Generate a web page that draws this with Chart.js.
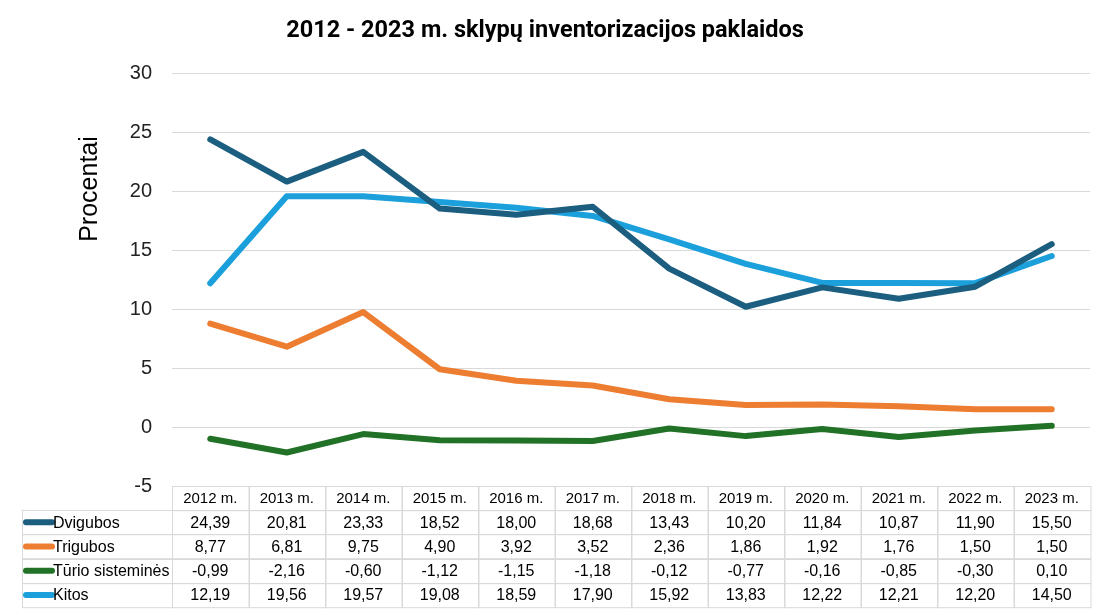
<!DOCTYPE html>
<html>
<head>
<meta charset="utf-8">
<script src="https://cdn.jsdelivr.net/npm/chart.js@4.4.1/dist/chart.umd.min.js"></script>
<style>
  html, body { margin: 0; padding: 0; background: #fff; }
  #wrap { width: 1103px; height: 613px; position: relative; }
</style>
</head>
<body>
<div id="wrap"><canvas id="chart" width="1103" height="613"></canvas></div>
<script>
const years = ["2012 m.", "2013 m.", "2014 m.", "2015 m.", "2016 m.", "2017 m.",
               "2018 m.", "2019 m.", "2020 m.", "2021 m.", "2022 m.", "2023 m."];
const dvigubos = [24.39, 20.81, 23.33, 18.52, 18.00, 18.68, 13.43, 10.20, 11.84, 10.87, 11.90, 15.50];
const trigubos = [8.77, 6.81, 9.75, 4.90, 3.92, 3.52, 2.36, 1.86, 1.92, 1.76, 1.50, 1.50];
const turioSistemines = [-0.99, -2.16, -0.60, -1.12, -1.15, -1.18, -0.12, -0.77, -0.16, -0.85, -0.30, 0.10];
const kitos = [12.19, 19.56, 19.57, 19.08, 18.59, 17.90, 15.92, 13.83, 12.22, 12.21, 12.20, 14.50];
const seriesNames = ["Dvigubos", "Trigubos", "Tūrio sisteminės", "Kitos"];
const yTicks = { min: -5, max: 30, step: 5 };

const colors = ["#1b5e80", "#ed7d31", "#217226", "#1ca0dc"];
const FONT = "'Liberation Sans', Arial, sans-serif";

// formats numbers like the table: comma decimal, two places
function fmt(v) {
    return v.toFixed(2).replace(".", ",");
}

// Data table + axis title under the plot, drawn from the same arrays
const tablePlugin = {
    id: "dataTable",
    afterDraw(chart) {
        const ctx = chart.ctx;
        const area = chart.chartArea;
        const xScale = chart.scales.x;
        const rowH = 24.2;
        const colW = area.width / years.length;
        const top = area.bottom;
        const leftX = 22;
        const rows = [dvigubos, trigubos, turioSistemines, kitos];

        ctx.save();
        ctx.strokeStyle = "#d9d9d9";
        ctx.lineWidth = 1;
        ctx.fillStyle = "#000";
        ctx.font = "15px " + FONT;
        ctx.textAlign = "center";
        ctx.textBaseline = "middle";

        // header row
        years.forEach((label, i) => {
            const cx = xScale.getPixelForValue(i);
            const x0 = Math.round(cx - colW / 2) + 0.5;
            ctx.strokeRect(x0, Math.round(top) + 0.5, colW, rowH);
            ctx.fillText(label, cx, top + rowH / 2 + 1);
        });

        // data rows
        ctx.font = "16px " + FONT;
        rows.forEach((vals, r) => {
            const y0 = top + rowH * (r + 1);
            const cy = y0 + rowH / 2;
            ctx.strokeRect(leftX + 0.5, Math.round(y0) + 0.5, area.left - leftX, rowH);
            vals.forEach((v, i) => {
                const cx = xScale.getPixelForValue(i);
                const x0 = Math.round(cx - colW / 2) + 0.5;
                ctx.strokeRect(x0, Math.round(y0) + 0.5, colW, rowH);
                ctx.fillStyle = "#000";
                ctx.textAlign = "center";
                ctx.fillText(fmt(v), cx, cy + 1);
            });
            // legend key
            ctx.beginPath();
            ctx.strokeStyle = colors[r];
            ctx.lineWidth = 6;
            ctx.lineCap = "round";
            ctx.moveTo(leftX + 4, cy);
            ctx.lineTo(leftX + 30, cy);
            ctx.stroke();
            ctx.strokeStyle = "#d9d9d9";
            ctx.lineWidth = 1;
            ctx.lineCap = "butt";
            ctx.textAlign = "left";
            ctx.fillText(seriesNames[r], leftX + 31, cy + 1);
        });

        // y axis title
        ctx.translate(90, 189);
        ctx.rotate(-Math.PI / 2);
        ctx.textAlign = "center";
        ctx.font = "25px " + FONT;
        ctx.fillText("Procentai", 0, 0);
        ctx.restore();
    }
};

const datasets = [dvigubos, trigubos, turioSistemines, kitos].map((vals, i) => ({
    label: seriesNames[i],
    data: vals,
    borderColor: colors[i],
    backgroundColor: colors[i],
    borderWidth: 6,
    borderCapStyle: "round",
    borderJoinStyle: "round",
    pointRadius: 0,
    tension: 0
}));

new Chart(document.getElementById("chart"), {
    type: "line",
    data: { labels: years, datasets: datasets },
    options: {
        responsive: false,
        animation: false,
        layout: { padding: { left: 0, right: 13, top: 0, bottom: 127 } },
        plugins: {
            legend: { display: false },
            tooltip: { enabled: false },
            title: {
                display: true,
                text: "2012 - 2023 m. sklypų inventorizacijos paklaidos",
                color: "#000",
                font: { family: "Roboto, sans-serif", size: 23.5, weight: "bold" },
                padding: { top: 17, bottom: 28 }
            }
        },
        scales: {
            x: {
                display: false,
                offset: true
            },
            y: {
                min: yTicks.min,
                max: yTicks.max,
                afterFit(scale) { scale.width = 172; },
                border: { display: false },
                grid: { color: "#d9d9d9", drawTicks: false },
                ticks: {
                    stepSize: yTicks.step,
                    padding: 20,
                    color: "#222",
                    font: { family: FONT, size: 20 }
                }
            }
        }
    },
    plugins: [tablePlugin]
});
</script>
</body>
</html>
